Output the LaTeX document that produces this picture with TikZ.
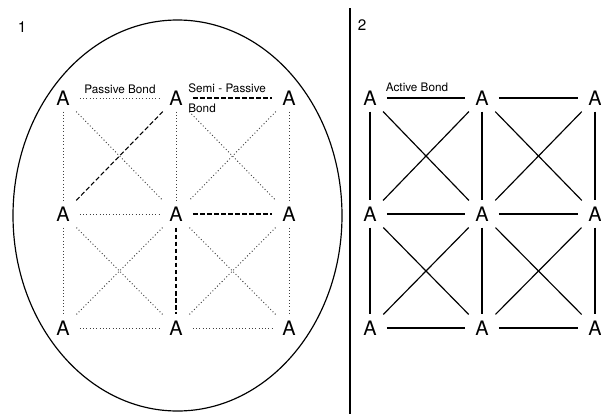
\documentclass[tikz,border=0pt]{standalone}
\usepackage{fontspec}
\setmainfont{TeX Gyre Heros}

\begin{document}
\begin{tikzpicture}[x=0.03cm, y=-0.03cm,
    atom/.style={minimum width=1.0cm, minimum height=0.8cm, inner sep=0pt,
      font=\fontsize{17}{17}\selectfont},
    lbl/.style={inner sep=1pt, font=\fontsize{10}{11}\selectfont},
    passive/.style={dotted, line width=0.8pt, black!75},
    semi/.style={dash pattern=on 4pt off 2pt, line width=0.9pt},
    active/.style={line width=1pt}]
  \useasboundingbox (0,0) rectangle (601,414);
  % Felder
  \node[font=\fontsize{13}{13}\selectfont] (n1) at (22,27) {1};
  \node[font=\fontsize{13}{13}\selectfont] (n2) at (362,25) {2};
  \draw[line width=1pt] (350,8) -- (350,414);
  \draw[line width=1pt] (177.5,215.5) ellipse[x radius=164.5, y radius=195.5];
  % Atome
  \foreach \i/\x in {1/63,2/176,3/289}
    \foreach \j/\y in {1/98,2/214,3/328}
      \node[atom] (a\i\j) at (\x,\y) {A};
  \foreach \i/\x in {1/370,2/482,3/595}
    \foreach \j/\y in {1/98,2/214,3/328}
      \node[atom] (b\i\j) at (\x,\y) {A};
  % 1: passive und semi-passive Bindungen
  \draw[passive] (a11) -- (a21);
  \draw[semi] (a21) -- (a31);
  \draw[passive] (a12) -- (a22);
  \draw[semi] (a22) -- (a32);
  \draw[passive] (a13) -- (a23);
  \draw[passive] (a23) -- (a33);
  \draw[passive] (a11) -- (a12);
  \draw[passive] (a12) -- (a13);
  \draw[passive] (a21) -- (a22);
  \draw[semi] (a22) -- (a23);
  \draw[passive] (a31) -- (a32);
  \draw[passive] (a32) -- (a33);
  \draw[semi] (a12) -- (a21);
  \draw[passive] (a11) -- (a22);
  \draw[passive] (a21) -- (a32);
  \draw[passive] (a31) -- (a22);
  \draw[passive] (a12) -- (a23);
  \draw[passive] (a22) -- (a13);
  \draw[passive] (a22) -- (a33);
  \draw[passive] (a32) -- (a23);
  \node[lbl] (pb) at (120,89) {Passive Bond};
  \node[lbl, anchor=west] (sp) at (187,88) {Semi - Passive};
  \node[lbl, anchor=west] (sb) at (187,108) {Bond};
  % 2: aktive Bindungen
  \foreach \j in {1,2,3} {
    \draw[active] (b1\j) -- (b2\j);
    \draw[active] (b2\j) -- (b3\j);
  }
  \foreach \i in {1,2,3} {
    \draw[active] (b\i1) -- (b\i2);
    \draw[active] (b\i2) -- (b\i3);
  }
  \foreach \i/\k in {1/2,2/3}
    \foreach \j/\l in {1/2,2/3} {
      \draw[active] (b\i\j) -- (b\k\l);
      \draw[active] (b\i\l) -- (b\k\j);
    }
  \node[lbl] (ab) at (417,87) {Active Bond};
\end{tikzpicture}
\end{document}
